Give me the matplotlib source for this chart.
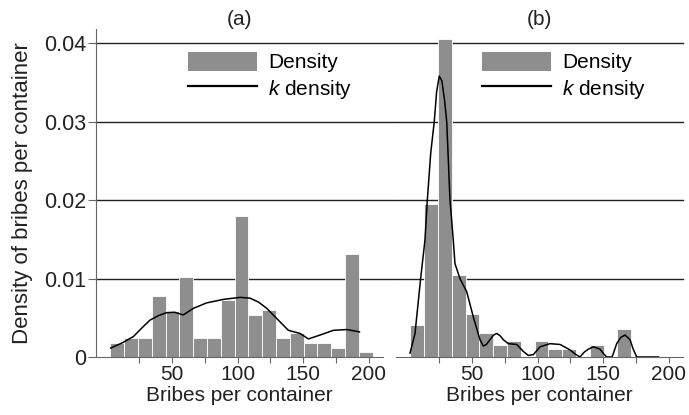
import numpy as np
import matplotlib
matplotlib.use("Agg")
import matplotlib.pyplot as plt
from matplotlib.patches import Patch
from matplotlib.lines import Line2D

plt.rcParams['font.family'] = ['Liberation Sans', 'DejaVu Sans']
plt.rcParams['mathtext.fontset'] = 'custom'
plt.rcParams['mathtext.it'] = 'Liberation Sans:italic'
plt.rcParams['mathtext.rm'] = 'Liberation Sans'

# ---- data ----
bin_start = 3.0
bin_width = 10.53

density_a = [0.0018, 0.0024, 0.0024, 0.0078, 0.0059, 0.0102, 0.0024, 0.0024,
             0.0073, 0.0180, 0.0054, 0.0060, 0.0024, 0.0030, 0.0018, 0.0018,
             0.0012, 0.0131, 0.0006]
density_b = [0.0041, 0.0195, 0.0405, 0.0105, 0.0055, 0.0030, 0.0015, 0.0021,
             0.0, 0.0021, 0.00105, 0.00105, 0.0, 0.0015, 0.0, 0.0036]

kde_a_x = [3.2, 12, 20.5, 27, 33.2, 40, 45.9, 52, 58.6, 66.3, 76.5, 89.2, 101.9,
           109.5, 116, 122.3, 129.9, 138.8, 147.7, 154.1, 163, 173.1, 183.4, 193]
kde_a_y = [0.00114, 0.0018, 0.0026, 0.0037, 0.0047, 0.0053, 0.00565, 0.0057, 0.00536,
           0.0062, 0.0069, 0.00734, 0.0076, 0.0075, 0.0070, 0.0062, 0.0049, 0.0034,
           0.0030, 0.0023, 0.0028, 0.0034, 0.0035, 0.0032]

kde_b_x = [2.7, 6.5, 10.8, 14.1, 15.9, 18.5, 21.2, 23.0, 25.0, 27.0, 29.0, 30.7, 33.2,
           35.7, 37.0, 40.8, 46.0, 51.0, 56.1, 58.6, 61.0, 63.7, 66.5, 68.9, 71.5, 73.9,
           77.7, 84.1, 89.2, 93.0, 96.8, 101.9, 109.5, 117.2, 124.8, 128.5, 132.4, 135.5,
           138.8, 142.6, 147.7, 150.5, 152.8, 156.9, 160.4, 163.5, 166.8, 170.6, 173.0,
           175.7, 192.2]
kde_b_y = [0.0005, 0.0030, 0.0100, 0.0149, 0.0200, 0.0260, 0.0300, 0.0338, 0.0358,
           0.0352, 0.0328, 0.0300, 0.0200, 0.0149, 0.0119, 0.0100, 0.0083, 0.0051,
           0.0022, 0.0014, 0.0016, 0.0022, 0.0028, 0.0030, 0.0027, 0.0022, 0.0017,
           0.0016, 0.0007, 0.0002, 0.0003, 0.0013, 0.0017, 0.0016, 0.0009, 0.0004,
           0.0, 0.0006, 0.0010, 0.0013, 0.0010, 0.0004, 0.0, 0.0, 0.0017, 0.0025,
           0.0028, 0.0022, 0.0010, 0.0, 0.0]

titles = ['(a)', '(b)']
xticks_major = [50, 100, 150, 200]
xticks_minor = [25, 75, 125, 175]
yticks = [0, 0.01, 0.02, 0.03, 0.04]
ytick_labels = ['0', '0.01', '0.02', '0.03', '0.04']

# ---- figure ----
W, H = 689, 415
fig = plt.figure(figsize=(W / 100, H / 100), dpi=100)

bar_color = '#8e8e8e'
grid_color = '#222222'
axis_color = '#666666'
text_color = '#222222'
FS = 15

panels = [
    (96, density_a, kde_a_x, kde_a_y, titles[0], True, 188),
    (396, density_b, kde_b_x, kde_b_y, titles[1], False, 482),
]

for left_px, dens, kx, ky, title, show_y, leg_px in panels:
    ax = fig.add_axes([left_px / W, 58 / H, 287 / W, 328 / H])
    ax.set_xlim(-8, 211)
    ax.set_ylim(0, 0.0418)
    lefts = bin_start + bin_width * np.arange(len(dens))
    ax.bar(lefts, dens, width=bin_width, align='edge', color=bar_color,
           edgecolor='white', linewidth=0.6, zorder=2)
    ax.plot(kx, ky, color='black', lw=1.1, zorder=3, solid_joinstyle='round')
    xmax = (300 / 287) if show_y else 1.0
    for yv in yticks[1:]:
        ax.axhline(yv, xmin=0, xmax=xmax, color=grid_color, lw=1.0, zorder=1,
                   clip_on=False)

    for s in ['top', 'right']:
        ax.spines[s].set_visible(False)
    ax.spines['bottom'].set_color(axis_color)
    ax.spines['bottom'].set_linewidth(0.8)
    if show_y:
        ax.spines['left'].set_color(axis_color)
        ax.spines['left'].set_linewidth(0.8)
        ax.set_yticks(yticks)
        ax.set_yticklabels(ytick_labels, fontsize=FS + 0.5, color=text_color)
        ax.tick_params(axis='y', length=6, width=0.8, color=axis_color, pad=1)
        ax.set_ylabel('Density of bribes per container', fontsize=FS + 1,
                      color=text_color, labelpad=8)
    else:
        ax.spines['left'].set_visible(False)
        ax.set_yticks([])

    ax.set_xticks(xticks_major)
    ax.set_xticklabels([str(v) for v in xticks_major], fontsize=FS, color=text_color)
    ax.set_xticks(xticks_minor, minor=True)
    ax.tick_params(axis='x', which='both', length=4, width=0.8, color=axis_color, pad=2)
    ax.set_xlabel('Bribes per container', fontsize=FS, color=text_color, labelpad=1)
    ax.set_title(title, fontsize=FS, color=text_color, pad=2)

    handles = [Patch(facecolor=bar_color, edgecolor='none'),
               Line2D([0], [0], color='black', lw=1.6)]
    ax.legend(handles, ['Density', '$k$ density'], loc='upper left',
              bbox_to_anchor=((leg_px - left_px) / 287, (357 - 52) / 328),
              frameon=False, fontsize=FS, handlelength=3.3, handleheight=1.0,
              handletextpad=0.55, labelspacing=0.25, borderpad=0, borderaxespad=0)

fig.savefig('out.png', dpi=100)
